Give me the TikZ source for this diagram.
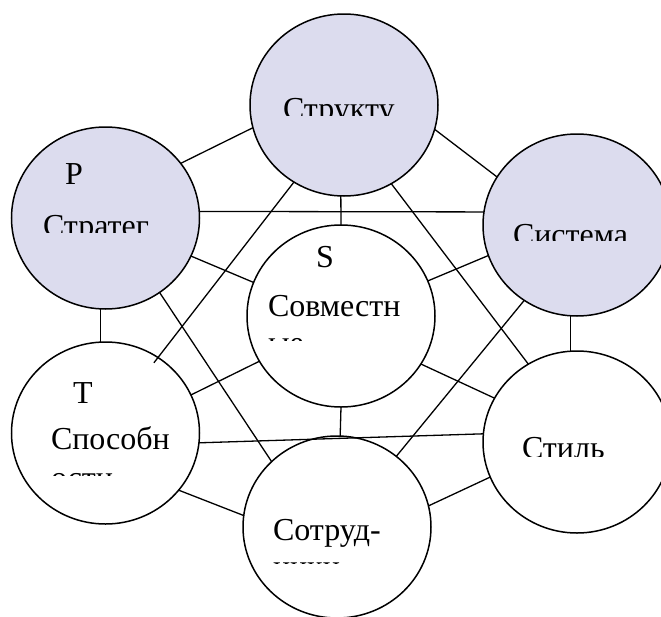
\documentclass[tikz,border=0pt]{standalone}
\usepackage{fontspec}
\setmainfont{Liberation Serif}
\usetikzlibrary{shapes.geometric}
\definecolor{lav}{RGB}{220,220,238}
\tikzset{
  cell/.style={ellipse, draw, line width=1.5pt, minimum width=188pt, minimum height=182pt, inner sep=0pt, outer sep=0pt},
  link/.style={line width=1.3pt},
  lbl/.style={anchor=base west, inner sep=0pt, outer sep=0pt, font=\fontsize{32}{36}\selectfont}
}
\begin{document}
\begin{tikzpicture}[x=1pt,y=-1pt]
\clip (0,0) rectangle (661,616);
\fill[white] (0,0) rectangle (661,616);
% circles
\node[cell, fill=lav]   (A) at (344,105) {};
\node[cell, fill=lav]   (B) at (105.5,218) {};
\node[cell, fill=lav]   (C) at (577,225) {};
\node[cell, fill=white] (D) at (341,316) {};
\node[cell, fill=white] (E) at (105.5,433) {};
\node[cell, fill=white] (F) at (577,442) {};
\node[cell, fill=white] (G) at (337,527) {};
% connectors
\draw[link] (A.194) -- (B.36);
\draw[link] (A.345) -- (C.149);
\draw[link] (A.268) -- (D.90);
\draw[link] (A.237) -- ([shift={(-3pt,-6pt)}]E.56);
\draw[link] (A.301) -- (F.122);
\draw[link] (B.4) -- (C.172);
\draw[link] (B.336) -- (D.159);
\draw[link] (B.267) -- (E.93);
\draw[link] (B.306) -- (G.135);
\draw[link] (C.199) -- (D.22);
\draw[link] (C.266) -- (F.94);
\draw[link] (C.235) -- (G.50);
\draw[link] (D.209) -- (E.24);
\draw[link] (D.329) -- (F.152);
\draw[link] (D.270) -- (G.88);
\draw[link] (E.354) -- (F.175);
\draw[link] (E.322) -- (G.173);
\draw[link] (F.202) -- (G.13);
% texts
\begin{scope}
\clip (250,60) rectangle (440,115);
\node[lbl] (tA) at (283,119) {Структу};
\end{scope}
\node[lbl] (pB) at (65,184) {P};
\begin{scope}
\clip (20,200) rectangle (200,232);
\node[lbl] (tB) at (43,236) {Стратег};
\end{scope}
\begin{scope}
\clip (490,200) rectangle (661,240);
\node[lbl] (tC) at (513,245) {Система};
\end{scope}
\node[lbl] (sD) at (316,267) {S};
\begin{scope}
\clip (250,280) rectangle (430,340);
\node[lbl] (tD) at (268,316) {Совместн};
\node[lbl] (uD) at (268,353) {ые};
\end{scope}
\node[lbl] (sE) at (73,403) {T};
\begin{scope}
\clip (20,410) rectangle (200,475);
\node[lbl] (tE) at (51,449) {Способн};
\node[lbl] (uE) at (51,488) {ости};
\end{scope}
\begin{scope}
\clip (500,420) rectangle (661,456);
\node[lbl] (tF) at (522,458) {Стиль};
\end{scope}
\begin{scope}
\clip (250,500) rectangle (430,563);
\node[lbl] (tG) at (273,540) {Сотруд-};
\node[lbl] (uG) at (273,577) {ники};
\end{scope}
\end{tikzpicture}
\end{document}
